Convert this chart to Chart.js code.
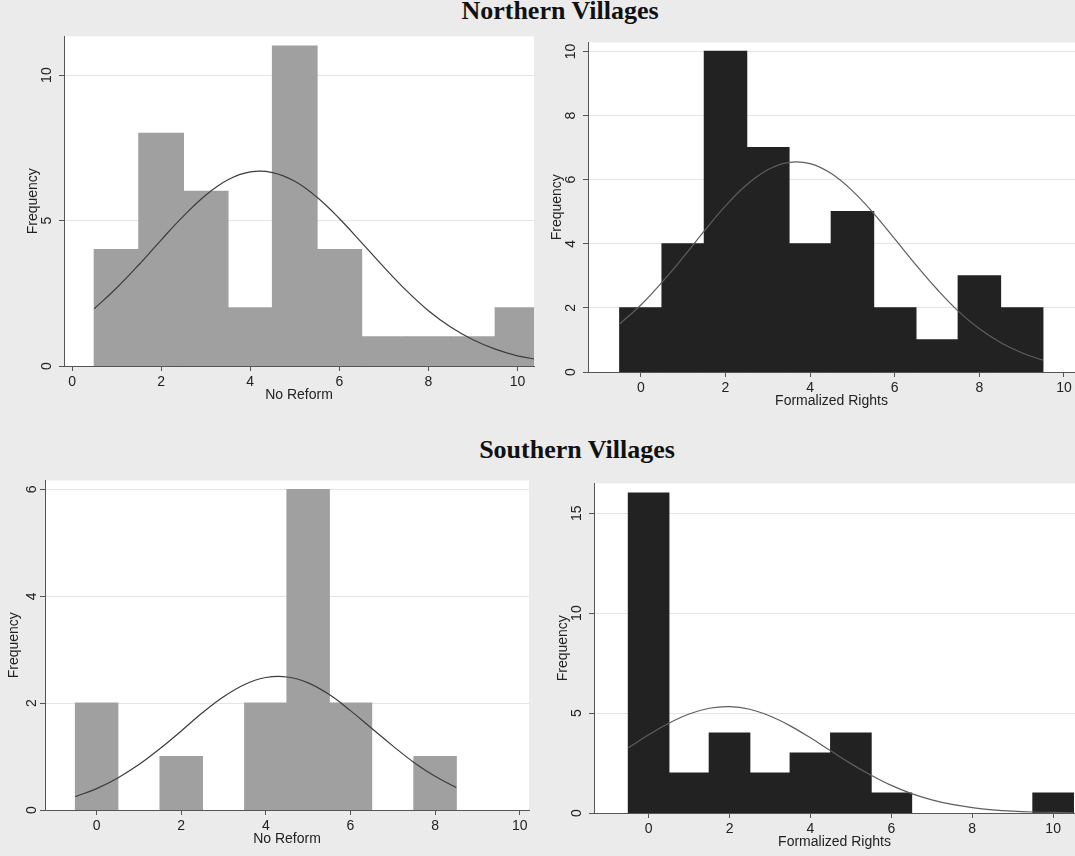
<!DOCTYPE html>
<html>
<head>
<meta charset="utf-8">
<script src="https://cdn.jsdelivr.net/npm/chart.js@4.4.0/dist/chart.umd.min.js"></script>
<style>
  body { margin: 0; width: 1075px; height: 856px; background: #ebebeb; overflow: hidden; position: relative; }
  .title { position: absolute; font-family: 'Liberation Serif', 'Times New Roman', serif; font-weight: bold;
           font-size: 26px; line-height: 26px; color: #111; white-space: nowrap; transform: translateX(-50%); }
  canvas { position: absolute; }
</style>
</head>
<body>
<div class="title" style="left:560px; top:-2px;">Northern Villages</div>
<div class="title" style="left:577px; top:437px;">Southern Villages</div>

<canvas id="northNo" width="513" height="380" style="left:25px; top:24px;"></canvas>
<canvas id="northFr" width="526" height="380" style="left:549px; top:30px;"></canvas>
<canvas id="southNo" width="527" height="380" style="left:6px; top:468px;"></canvas>
<canvas id="southFr" width="520" height="380" style="left:555px; top:471px;"></canvas>

<script>
// tick labels
const xTicks = [0, 2, 4, 6, 8, 10];
const yTicksNorthNo = [0, 5, 10];
const yTicksNorthFr = [0, 2, 4, 6, 8, 10];
const yTicksSouthNo = [0, 2, 4, 6];
const yTicksSouthFr = [0, 5, 10, 15];

// Northern villages, no reform
const binsNorthNo = [1, 2, 3, 4, 5, 6, 7, 8, 9, 10];
const countsNorthNo = [4, 8, 6, 2, 11, 4, 1, 1, 1, 2];
const curveXNorthNo = [0.5, 1, 1.5, 2, 2.5, 3, 3.5, 4, 4.5, 5, 5.5, 6, 6.5, 7, 7.5, 8, 8.5, 9, 9.5, 10, 10.5];
const curveYNorthNo = [1.97, 2.68, 3.48, 4.33, 5.15, 5.87, 6.40, 6.67, 6.65, 6.35, 5.80, 5.07, 4.24, 3.40, 2.60, 1.90, 1.34, 0.90, 0.58, 0.35, 0.21];

// Northern villages, formalized rights
const binsNorthFr = [0, 1, 2, 3, 4, 5, 6, 7, 8, 9];
const countsNorthFr = [2, 4, 10, 7, 4, 5, 2, 1, 3, 2];
const curveXNorthFr = [-0.5, 0, 0.5, 1, 1.5, 2, 2.5, 3, 3.5, 4, 4.5, 5, 5.5, 6, 6.5, 7, 7.5, 8, 8.5, 9, 9.5];
const curveYNorthFr = [1.50, 2.09, 2.80, 3.58, 4.40, 5.18, 5.84, 6.31, 6.54, 6.50, 6.19, 5.65, 4.95, 4.15, 3.34, 2.58, 1.90, 1.35, 0.92, 0.60, 0.37];

// Southern villages, no reform
const binsSouthNo = [0, 2, 4, 5, 6, 8];
const countsSouthNo = [2, 1, 2, 6, 2, 1];
const curveXSouthNo = [-0.5, 0, 0.5, 1, 1.5, 2, 2.5, 3, 3.5, 4, 4.5, 5, 5.5, 6, 6.5, 7, 7.5, 8, 8.5];
const curveYSouthNo = [0.25, 0.40, 0.60, 0.85, 1.15, 1.48, 1.82, 2.12, 2.35, 2.48, 2.49, 2.38, 2.16, 1.86, 1.53, 1.20, 0.89, 0.63, 0.42];

// Southern villages, formalized rights
const binsSouthFr = [0, 1, 2, 3, 4, 5, 6, 10];
const countsSouthFr = [16, 2, 4, 2, 3, 4, 1, 1];
const curveXSouthFr = [-0.5, 0, 0.5, 1, 1.5, 2, 2.5, 3, 3.5, 4, 4.5, 5, 5.5, 6, 6.5, 7, 7.5, 8, 8.5, 9, 9.5, 10, 10.5];
const curveYSouthFr = [3.27, 3.91, 4.49, 4.95, 5.24, 5.32, 5.19, 4.85, 4.36, 3.76, 3.11, 2.47, 1.89, 1.38, 0.97, 0.66, 0.43, 0.27, 0.16, 0.09, 0.05, 0.03, 0.01];

Chart.defaults.font.family = "'Liberation Sans', Arial, sans-serif";
Chart.defaults.animation = false;

const textColor = '#222';
const axisColor = '#555';
const gridColor = '#e4e4e4';

// white plot region like stata
const plotBg = {
  id: 'plotBg',
  beforeDraw(chart) {
    const a = chart.chartArea;
    const ctx = chart.ctx;
    ctx.save();
    ctx.fillStyle = '#fff';
    ctx.fillRect(a.left, a.top, a.right - a.left, a.bottom - a.top);
    ctx.restore();
  }
};

function histogram(id, p) {
  const bars = p.bins.map((b, i) => ({ x: b, y: p.counts[i] }));
  const curve = p.curveX.map((x, i) => ({ x: x, y: p.curveY[i] }));
  return new Chart(document.getElementById(id), {
    type: 'bar',
    data: {
      datasets: [
        {
          type: 'line',
          data: curve,
          borderColor: p.lineColor,
          borderWidth: 1.2,
          pointRadius: 0,
          fill: false,
          tension: 0.4,
          order: 0
        },
        {
          data: bars,
          backgroundColor: p.barColor,
          borderWidth: 0,
          inflateAmount: 0.6,
          barPercentage: 1,
          categoryPercentage: 1,
          order: 1
        }
      ]
    },
    options: {
      responsive: false,
      layout: { autoPadding: false, padding: { top: p.padTop, right: p.padRight, left: 0, bottom: 0 } },
      plugins: { legend: { display: false }, tooltip: { enabled: false } },
      scales: {
        x: {
          type: 'linear',
          min: p.xMin,
          max: p.xMax,
          offset: false,
          afterBuildTicks: (s) => { s.ticks = xTicks.map((v) => ({ value: v })); },
          afterFit: (s) => { s.height = 38; },
          grid: { offset: false, drawOnChartArea: false, drawTicks: true, tickLength: 5, tickColor: axisColor },
          border: { color: axisColor, width: 1 },
          ticks: { font: { size: 14 }, color: textColor, padding: 3, maxRotation: 0, autoSkip: false },
          title: { display: true, text: p.xTitle, font: { size: 14 }, color: textColor, padding: 0 }
        },
        y: {
          type: 'linear',
          min: 0,
          max: p.yMax,
          afterBuildTicks: (s) => { s.ticks = p.yTicks.map((v) => ({ value: v })); },
          afterFit: (s) => { s.width = 39; },
          grid: { color: gridColor, tickLength: 5, tickColor: axisColor },
          border: { color: axisColor, width: 1 },
          ticks: { font: { size: 14 }, color: textColor, padding: 4, minRotation: 90, maxRotation: 90,
                   crossAlign: 'center', autoSkip: false },
          title: { display: true, text: 'Frequency', font: { size: 14 }, color: textColor, padding: 0 }
        }
      }
    },
    plugins: [plotBg]
  });
}

histogram('northNo', {
  bins: binsNorthNo, counts: countsNorthNo, curveX: curveXNorthNo, curveY: curveYNorthNo,
  yTicks: yTicksNorthNo, xTitle: 'No Reform', barColor: '#a0a0a0', lineColor: '#3c3c3c',
  xMin: -0.18, xMax: 10.37, yMax: 11.33, padTop: 10, padRight: 4
});
histogram('northFr', {
  bins: binsNorthFr, counts: countsNorthFr, curveX: curveXNorthFr, curveY: curveYNorthFr,
  yTicks: yTicksNorthFr, xTitle: 'Formalized Rights', barColor: '#222222', lineColor: '#5e5e5e',
  xMin: -1.25, xMax: 10.26, yMax: 10.28, padTop: 10, padRight: 0
});
histogram('southNo', {
  bins: binsSouthNo, counts: countsSouthNo, curveX: curveXSouthNo, curveY: curveYSouthNo,
  yTicks: yTicksSouthNo, xTitle: 'No Reform', barColor: '#a0a0a0', lineColor: '#3c3c3c',
  xMin: -1.22, xMax: 10.22, yMax: 6.17, padTop: 10, padRight: 4
});
histogram('southFr', {
  bins: binsSouthFr, counts: countsSouthFr, curveX: curveXSouthFr, curveY: curveYSouthFr,
  yTicks: yTicksSouthFr, xTitle: 'Formalized Rights', barColor: '#222222', lineColor: '#5e5e5e',
  xMin: -1.35, xMax: 10.54, yMax: 16.49, padTop: 10, padRight: 0
});
</script>
</body>
</html>
